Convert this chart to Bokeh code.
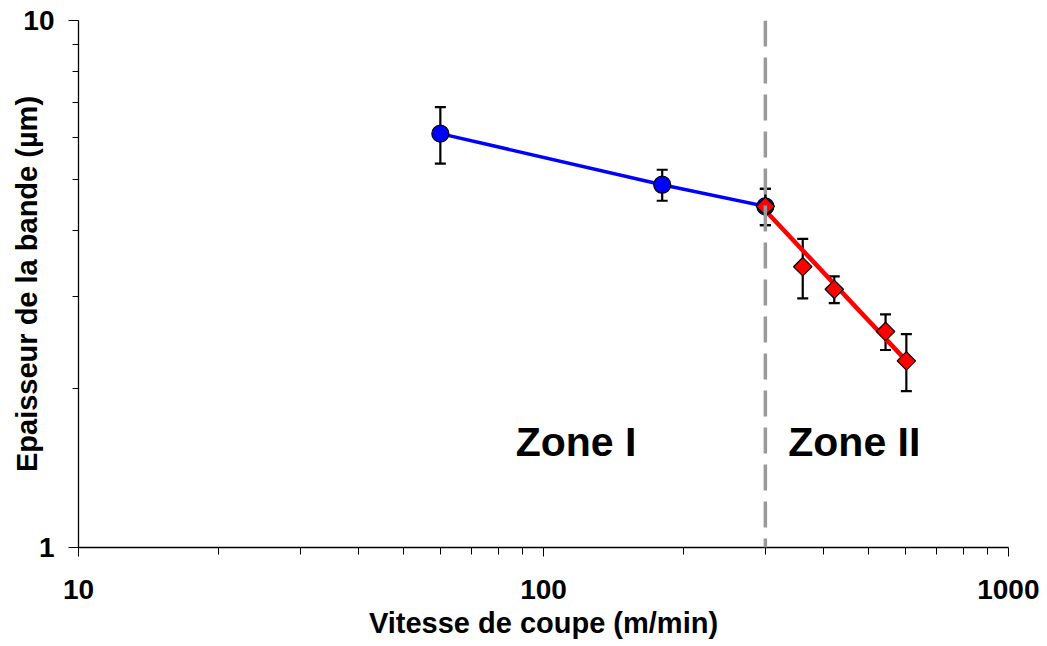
import numpy as np
from bokeh.plotting import figure
from bokeh.models import (ColumnDataSource, Whisker, TeeHead, Span, Label,
                          FixedTicker, Range1d)
from bokeh.embed import file_html
from bokeh.resources import INLINE

# ---- data ----
zone1_speed = [60, 180, 300]
zone1_thick = [6.1, 4.88, 4.44]
zone1_err = [0.75, 0.33, 0.35]

zone2_speed = [300, 361, 422, 544, 603]
zone2_thick = [4.44, 3.41, 3.09, 2.57, 2.26]
zone2_err = [0.35, 0.44, 0.18, 0.20, 0.28]

fit2_speed = [300, 603]
fit2_thick = [4.36, 2.26]

boundary_speed = 300

x_ticks = [10, 100, 1000]
x_tick_labels = ["10", "100", "1000"]
y_ticks = [1, 10]
y_tick_labels = ["1", "10"]

zone_labels = ["Zone I", "Zone II"]
x_label = "Vitesse de coupe (m/min)"
y_label = "Epaisseur de la bande (µm)"

FONT = "Liberation Sans"

p = figure(x_axis_type="log", y_axis_type="log",
           x_range=Range1d(10, 1000), y_range=Range1d(1, 10),
           frame_width=930, frame_height=527,
           min_border_left=78, min_border_right=31,
           min_border_top=20, min_border_bottom=99,
           output_backend="svg", toolbar_location=None,
           background_fill_color="white", border_fill_color="white")
p.outline_line_color = None
p.xgrid.visible = False
p.ygrid.visible = False

# axes
minor_x = [m * d for d in (10, 100) for m in range(2, 10)]
minor_y = [m for m in range(2, 10)]
p.xaxis.ticker = FixedTicker(ticks=x_ticks, minor_ticks=minor_x)
p.yaxis.ticker = FixedTicker(ticks=y_ticks, minor_ticks=minor_y)
p.xaxis.major_label_overrides = {float(t): l for t, l in zip(x_ticks, x_tick_labels)}
p.yaxis.major_label_overrides = {float(t): l for t, l in zip(y_ticks, y_tick_labels)}
for ax in (p.xaxis[0], p.yaxis[0]):
    ax.axis_line_color = "black"
    ax.axis_line_width = 1.3
    ax.major_tick_line_color = "black"
    ax.minor_tick_line_color = "black"
    ax.major_tick_in = 0
    ax.minor_tick_in = 0
    ax.major_label_text_font = FONT
    ax.major_label_text_font_style = "bold"
    ax.major_label_text_font_size = "28px"
    ax.major_label_text_color = "black"
    ax.axis_label_text_font = FONT
    ax.axis_label_text_font_style = "bold"
    ax.axis_label_text_font_size = "29px"
    ax.axis_label_text_color = "black"
p.xaxis.major_tick_out = 9
p.xaxis.minor_tick_out = 7
p.yaxis.major_tick_out = 10
p.yaxis.minor_tick_out = 6
p.xaxis.major_label_standoff = 23
p.yaxis.major_label_standoff = 14
p.xaxis.axis_label = x_label
p.yaxis.axis_label = y_label
p.xaxis.axis_label_standoff = 5
p.yaxis.axis_label_standoff = -23

# boundary
p.add_layout(Span(location=boundary_speed, dimension="height",
                  line_color="#999999", line_width=3.5, line_dash="26 11"))

# lines
p.line(zone1_speed, zone1_thick, line_color="#0000FF", line_width=3.5)
p.line(fit2_speed, fit2_thick, line_color="#FF0000", line_width=4.5)

# error bars
for xs, ys, es in ((zone1_speed, zone1_thick, zone1_err),
                   (zone2_speed, zone2_thick, zone2_err)):
    src = ColumnDataSource(dict(x=xs,
                                lo=[y - e for y, e in zip(ys, es)],
                                hi=[y + e for y, e in zip(ys, es)]))
    w = Whisker(source=src, base="x", lower="lo", upper="hi", dimension="height",
                line_color="black", line_width=2.2,
                upper_head=TeeHead(size=11, line_color="black", line_width=2.2),
                lower_head=TeeHead(size=11, line_color="black", line_width=2.2))
    p.add_layout(w)

# markers
p.scatter(zone1_speed, zone1_thick, marker="circle", size=17,
          fill_color="#0000FF", line_color="black", line_width=1.2)
p.scatter(zone2_speed, zone2_thick, marker="square", angle=np.pi / 4, size=13,
          fill_color="#FF0000", line_color="black", line_width=1.2)

# zone texts
for xpos, txt in ((117.5, zone_labels[0]), (466.0, zone_labels[1])):
    p.add_layout(Label(x=xpos, y=1.589, text=txt, text_align="center",
                       text_baseline="middle", text_font=FONT,
                       text_font_style="bold", text_font_size="41px",
                       text_color="black"))

open("out.html", "w").write(file_html(p, INLINE))
